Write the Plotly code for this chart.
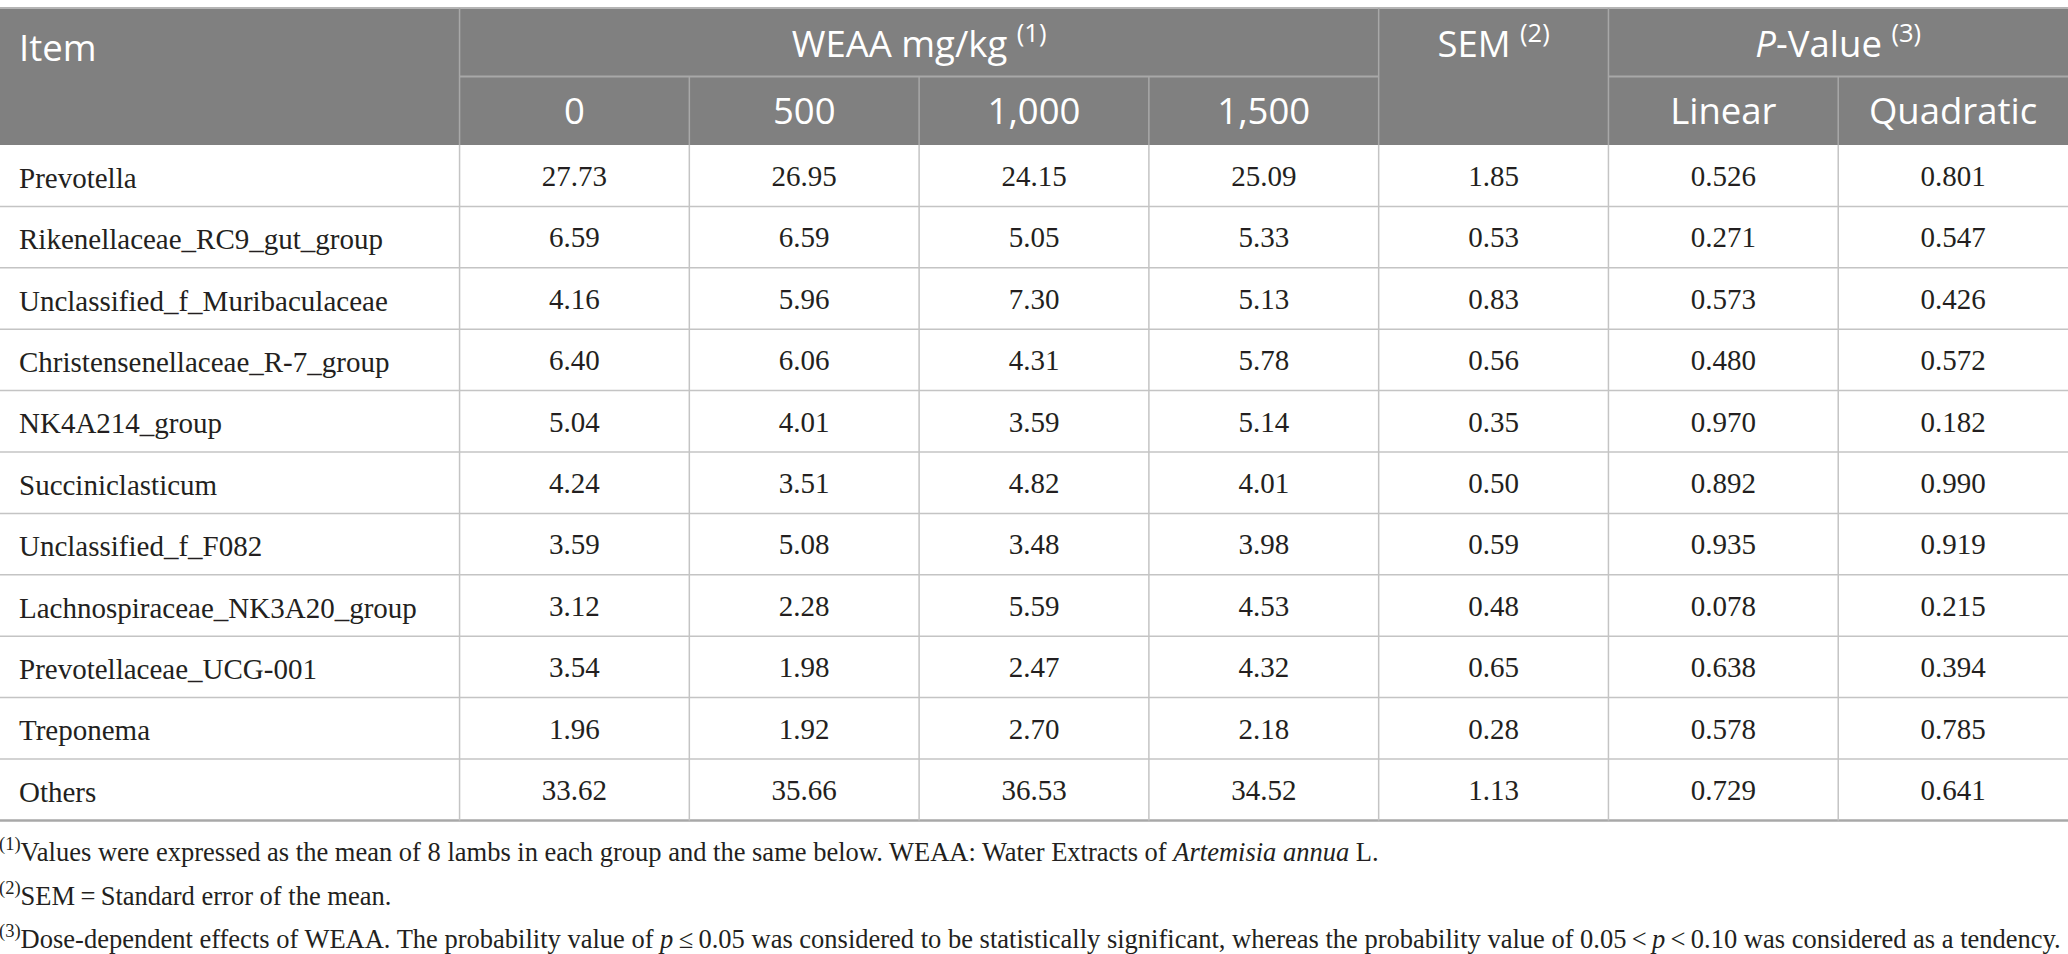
import plotly.graph_objects as go

# ---------------- data ----------------
items = ["Prevotella", "Rikenellaceae_RC9_gut_group", "Unclassified_f_Muribaculaceae",
         "Christensenellaceae_R-7_group", "NK4A214_group", "Succiniclasticum",
         "Unclassified_f_F082", "Lachnospiraceae_NK3A20_group", "Prevotellaceae_UCG-001",
         "Treponema", "Others"]
dose_labels = ["0", "500", "1,000", "1,500"]
weaa_0 = [27.73, 6.59, 4.16, 6.40, 5.04, 4.24, 3.59, 3.12, 3.54, 1.96, 33.62]
weaa_500 = [26.95, 6.59, 5.96, 6.06, 4.01, 3.51, 5.08, 2.28, 1.98, 1.92, 35.66]
weaa_1000 = [24.15, 5.05, 7.30, 4.31, 3.59, 4.82, 3.48, 5.59, 2.47, 2.70, 36.53]
weaa_1500 = [25.09, 5.33, 5.13, 5.78, 5.14, 4.01, 3.98, 4.53, 4.32, 2.18, 34.52]
sem = [1.85, 0.53, 0.83, 0.56, 0.35, 0.50, 0.59, 0.48, 0.65, 0.28, 1.13]
p_linear = [0.526, 0.271, 0.573, 0.480, 0.970, 0.892, 0.935, 0.078, 0.638, 0.578, 0.729]
p_quadratic = [0.801, 0.547, 0.426, 0.572, 0.182, 0.990, 0.919, 0.215, 0.394, 0.785, 0.641]
p_labels = ["Linear", "Quadratic"]

header_top = ["Item", "WEAA mg/kg <sup>(1)</sup>", "SEM <sup>(2)</sup>", "<i>P</i>-Value <sup>(3)</sup>"]
footnotes = [
    "<sup>(1)</sup>Values were expressed as the mean of 8 lambs in each group and the same below. "
    "WEAA: Water Extracts of <i>Artemisia annua</i> L.",
    "<sup>(2)</sup>SEM\u2009=\u2009Standard error of the mean.",
    "<sup>(3)</sup>Dose-dependent effects of WEAA. The probability value of <i>p</i>\u2009\u2264\u20090.05 "
    "was considered to be statistically significant, whereas the probability value of "
    "0.05\u2009<\u2009<i>p</i>\u2009<\u20090.10 was considered as a tendency.",
]

# ---------------- layout constants ----------------
W, H = 2068, 954
NCOLS = 9               # item column = 2 units, the other seven = 1 unit each
TOP = 8
HROW = 68.5
BODY_TOP = TOP + 2 * HROW
ROWH = 61.4
HEADER_BG = "#808080"
HEADER_LINE = "#a8a8a8"
GRID = "#c4c4c4"
TEXT = "#231f20"
SANS = "Open Sans"
SERIF = "Liberation Serif"
BODY_SIZE = 29
HEAD_SIZE = 36.5
HEAD_SHIFT = 6
BODY_SHIFT = 3

n = len(items)
row_y = [BODY_TOP + (i + 0.5) * ROWH + BODY_SHIFT for i in range(n)]
body_bottom = BODY_TOP + n * ROWH
px = NCOLS / W  # x units per pixel
LEFT_PAD = 17 * px

fig = go.Figure()

# numeric columns
num_cols = [weaa_0, weaa_500, weaa_1000, weaa_1500, sem, p_linear, p_quadratic]
fmts = ["{:.2f}"] * 5 + ["{:.3f}"] * 2
for k, (vals, f) in enumerate(zip(num_cols, fmts)):
    fig.add_trace(go.Scatter(
        x=[2.5 + k] * n, y=row_y, mode="text",
        text=[f.format(v) for v in vals], textposition="middle center",
        textfont=dict(family=SERIF, size=BODY_SIZE, color=TEXT),
        hoverinfo="skip", showlegend=False))

# header texts
h1y = TOP + HROW / 2 + HEAD_SHIFT
h2y = TOP + 1.5 * HROW + HEAD_SHIFT - 2
fig.add_trace(go.Scatter(
    x=[4.0, 6.5, 8.0], y=[h1y] * 3, mode="text", text=header_top[1:],
    textposition="middle center", textfont=dict(family=SANS, size=HEAD_SIZE, color="white"),
    hoverinfo="skip", showlegend=False))
fig.add_trace(go.Scatter(
    x=[2.5, 3.5, 4.5, 5.5, 7.5, 8.5], y=[h2y] * 6, mode="text",
    text=dose_labels + p_labels, textposition="middle center",
    textfont=dict(family=SANS, size=HEAD_SIZE, color="white"),
    hoverinfo="skip", showlegend=False))

annotations = []
# left-aligned item column (header + names)
annotations.append(dict(x=LEFT_PAD, y=h1y - 1, xref="x", yref="y", text=header_top[0],
                        showarrow=False, xanchor="left", yanchor="middle",
                        font=dict(family=SANS, size=HEAD_SIZE, color="white")))
for name, yv in zip(items, row_y):
    annotations.append(dict(x=LEFT_PAD, y=yv - 1, xref="x", yref="y", text=name,
                            showarrow=False, xanchor="left", yanchor="middle",
                            font=dict(family=SERIF, size=BODY_SIZE, color=TEXT)))

shapes = []
# header background
shapes.append(dict(type="rect", x0=0, x1=NCOLS, y0=TOP, y1=BODY_TOP, fillcolor=HEADER_BG,
                   line=dict(width=0), layer="below"))
shapes.append(dict(type="line", x0=0, x1=NCOLS, y0=TOP, y1=TOP, line=dict(color="#b4b4b4", width=2)))
# header vertical lines
for xv in [2, 6, 7]:
    shapes.append(dict(type="line", x0=xv, x1=xv, y0=TOP, y1=BODY_TOP,
                       line=dict(color=HEADER_LINE, width=1.5)))
for xv in [3, 4, 5, 8]:
    shapes.append(dict(type="line", x0=xv, x1=xv, y0=TOP + HROW, y1=BODY_TOP,
                       line=dict(color=HEADER_LINE, width=1.5)))
for a, b in [(2, 6), (7, 9)]:
    shapes.append(dict(type="line", x0=a, x1=b, y0=TOP + HROW, y1=TOP + HROW,
                       line=dict(color=HEADER_LINE, width=2)))
# body grid
for i in range(1, n):
    yv = BODY_TOP + i * ROWH
    shapes.append(dict(type="line", x0=0, x1=NCOLS, y0=yv, y1=yv, line=dict(color=GRID, width=1.5)))
shapes.append(dict(type="line", x0=0, x1=NCOLS, y0=body_bottom, y1=body_bottom,
                   line=dict(color="#a8a8a8", width=2.5)))
for xv in range(2, 9):
    shapes.append(dict(type="line", x0=xv, x1=xv, y0=BODY_TOP, y1=body_bottom,
                       line=dict(color=GRID, width=1.5)))

# footnotes
for j, t in enumerate(footnotes):
    annotations.append(dict(x=0, xshift=-3, y=850 + j * 43.5, xref="paper", yref="y", text=t,
                            showarrow=False, xanchor="left", yanchor="middle",
                            font=dict(family=SERIF, size=26.5, color=TEXT)))

fig.update_layout(
    width=W, height=H, margin=dict(l=0, r=0, t=0, b=0),
    paper_bgcolor="white", plot_bgcolor="white",
    xaxis=dict(range=[0, NCOLS], visible=False, fixedrange=True),
    yaxis=dict(range=[H, 0], visible=False, fixedrange=True),
    shapes=shapes, annotations=annotations,
)

fig.write_html("out.html", config={"displayModeBar": False},
               post_script="document.body.style.margin='0';document.body.style.overflow='hidden';")
